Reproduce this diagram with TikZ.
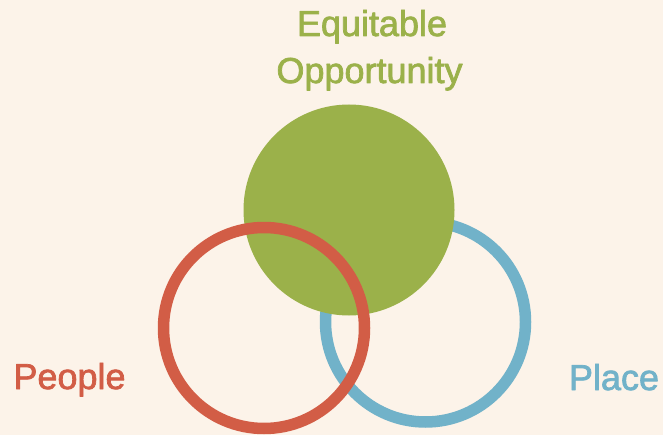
\documentclass[tikz,border=0pt]{standalone}
\usepackage{fontspec}
\setmainfont{Liberation Sans}
\newfontfamily\lblfont{Liberation Sans}[RawFeature={embolden=2}]
\usetikzlibrary{positioning}
\definecolor{bgcream}{RGB}{252,243,233}
\definecolor{oppgreen}{RGB}{155,177,74}
\definecolor{peoplered}{RGB}{210,93,70}
\definecolor{placeblue}{RGB}{113,178,201}
\tikzset{
	ring/.style={line width=11.5pt},
	lbl/.style={anchor=base,inner sep=0pt,font=\lblfont\fontsize{36}{40}\selectfont}
}

\begin{document}
\begin{tikzpicture}[line cap=round,line join=round,x=1pt,y=-1pt]
		\fill[bgcream] (0,0) rectangle (663,435);
		\useasboundingbox (0,0) rectangle (663,435);
		% rings and disc
		\draw[ring,placeblue] (425.5,322) circle (100);
		\fill[oppgreen] (349,210) circle (105.5);
		\draw[ring,peoplered] (264,328) circle (100.5);
		% labels
		\node[lbl,text=oppgreen] (equit) at (372,36) {Equitable};
		\node[lbl,text=oppgreen] (oppor) at (369.5,83) {Opportunity};
		\node[lbl,text=peoplered] (people) at (69.5,389) {People};
		\node[lbl,text=placeblue] (place) at (614,390) {Place};
		\end{tikzpicture}
\end{document}
